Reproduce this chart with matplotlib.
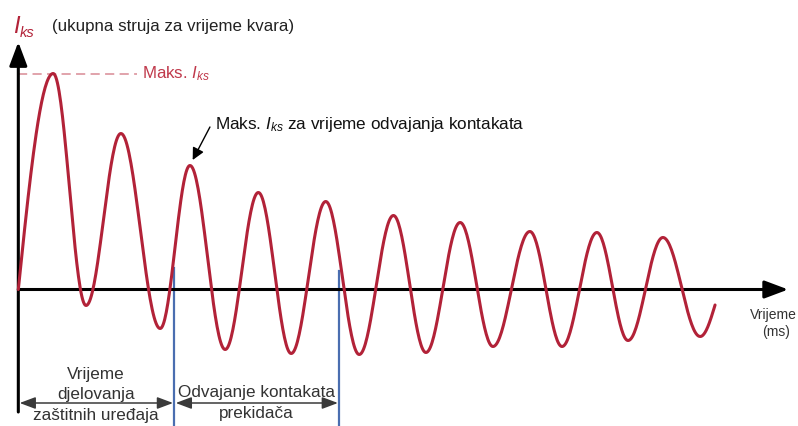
import matplotlib.pyplot as plt
import numpy as np

plt.rcParams['font.family'] = ['Liberation Sans', 'DejaVu Sans']
plt.rcParams['mathtext.fontset'] = 'custom'
plt.rcParams['mathtext.rm'] = 'Liberation Sans'
plt.rcParams['mathtext.it'] = 'Liberation Sans:italic'

# time in ms, current in arbitrary units
peak_t = [10.3, 30.3, 50.7, 70.9, 90.8, 110.8, 130.5, 151.1, 170.9, 190.4]
peak_v = [21.6, 15.6, 12.4, 9.7, 8.8, 7.4, 6.7, 5.8, 5.7, 5.2]
trough_t = [20.0, 41.9, 61.1, 80.6, 100.7, 120.4, 140.2, 160.6, 180.1, 201.4]
trough_v = [-1.6, -3.9, -6.0, -6.4, -6.5, -6.3, -5.7, -5.7, -5.1, -4.7]
end_t, end_v = 205.8, -1.55

t_protection = 46.0   # end of protection operating time
t_separation = 94.7   # end of contact separation

RED = '#b22238'
BLUE = '#4a6eb0'
TXT = '#333333'


def build_wave():
    """join the read extrema with cosine half-waves"""
    ext = sorted(zip(peak_t + trough_t, peak_v + trough_v))
    ts, vs = [], []
    s = np.linspace(0, 1, 40)
    # rise from zero to the first peak
    t1, v1 = ext[0]
    ts.append(s * t1)
    vs.append(v1 * np.sin(np.pi / 2 * s))
    for (t0, v0), (t1, v1) in zip(ext[:-1], ext[1:]):
        ts.append(t0 + s * (t1 - t0))
        vs.append(v0 + (v1 - v0) * (1 - np.cos(np.pi * s)) / 2)
    t0, v0 = ext[-1]
    ts.append(t0 + s * (end_t - t0))
    vs.append(v0 + (end_v - v0) * (1 - np.cos(np.pi / 2 * s)))
    return np.concatenate(ts), np.concatenate(vs)


fig = plt.figure(figsize=(7.98, 4.26), dpi=100)
ax = fig.add_axes([0, 0, 1, 1])
ax.set_xlim(-5.41, 230.3)
ax.set_ylim(-13.65, 28.95)
ax.axis('off')

# axes with arrows
ax.annotate('', xy=(0, 24.75), xytext=(0, -12.25),
            arrowprops=dict(arrowstyle='-|>,head_length=0.72,head_width=0.27',
                            mutation_scale=20, lw=2.2, color='black',
                            shrinkA=0, shrinkB=0))
ax.annotate('', xy=(227.4, 0), xytext=(0, 0),
            arrowprops=dict(arrowstyle='-|>,head_length=0.72,head_width=0.27',
                            mutation_scale=20, lw=2.2, color='black',
                            shrinkA=0, shrinkB=0))

# the fault current
t, v = build_wave()
ax.plot(t, v, color=RED, lw=2.2, solid_capstyle='round', zorder=3)

# max peak marker
ax.plot([0, 35.1], [peak_v[0], peak_v[0]], color='#d98a95', lw=1.1,
        dashes=(6, 3.5))
ax.text(36.5, peak_v[0], 'Maks. $I_{ks}$', color='#c0394b', fontsize=12.2,
        ha='left', va='center')

# peak at contact separation
ax.annotate('', xy=(peak_t[2] + 0.8, peak_v[2] + 0.55), xytext=(56.6, 16.25),
            arrowprops=dict(arrowstyle='-|>,head_length=0.6,head_width=0.3',
                            mutation_scale=12, lw=1.0, color='black',
                            shrinkA=0, shrinkB=0))
ax.text(58.1, 16.45, 'Maks. $I_{ks}$ za vrijeme odvajanja kontakata',
        fontsize=12.3, color='#111111', ha='left', va='center')

# blue time markers
ax.plot([t_protection, t_protection], [-14, 2.15], color=BLUE, lw=1.6)
ax.plot([t_separation, t_separation], [-14, 1.85], color=BLUE, lw=1.6)

arrow2 = dict(arrowstyle='<|-|>,head_length=0.8,head_width=0.3',
              mutation_scale=12, lw=1.1, color='#3a3a3a', shrinkA=0, shrinkB=0)
ax.annotate('', xy=(0.4, -11.35), xytext=(t_protection - 0.3, -11.35),
            arrowprops=arrow2)
ax.annotate('', xy=(t_protection + 0.5, -11.35), xytext=(t_separation - 0.3, -11.35),
            arrowprops=arrow2)

mid1 = t_protection / 2
mid2 = (t_protection + t_separation) / 2
fs = 12.3
ax.text(mid1, -8.45, 'Vrijeme', fontsize=fs, color=TXT, ha='center', va='center')
ax.text(mid1, -10.5, 'djelovanja', fontsize=fs, color=TXT, ha='center', va='center')
ax.text(mid1, -12.6, 'zaštitnih uređaja', fontsize=fs, color=TXT, ha='center', va='center')
ax.text(mid2, -10.25, 'Odvajanje kontakata', fontsize=fs, color=TXT, ha='center', va='center')
ax.text(mid2, -12.4, 'prekidača', fontsize=fs, color=TXT, ha='center', va='center')

# header and axis label
fig.text(13 / 798, 1 - 33 / 426, 'I', fontsize=17, style='italic', color=RED,
         ha='left', va='baseline')
fig.text(20 / 798, 1 - 37 / 426, 'ks', fontsize=10.5, style='italic', color=RED,
         ha='left', va='baseline')
fig.text(52 / 798, 1 - 26 / 426, '(ukupna struja za vrijeme kvara)', fontsize=12.2,
         color='#222222', ha='left', va='center')
fig.text(750 / 798, 1 - 315 / 426, 'Vrijeme', fontsize=10, color=TXT,
         ha='left', va='center')
fig.text(776 / 798, 1 - 332 / 426, '(ms)', fontsize=10, color=TXT,
         ha='center', va='center')

fig.savefig('out.png', dpi=100)
